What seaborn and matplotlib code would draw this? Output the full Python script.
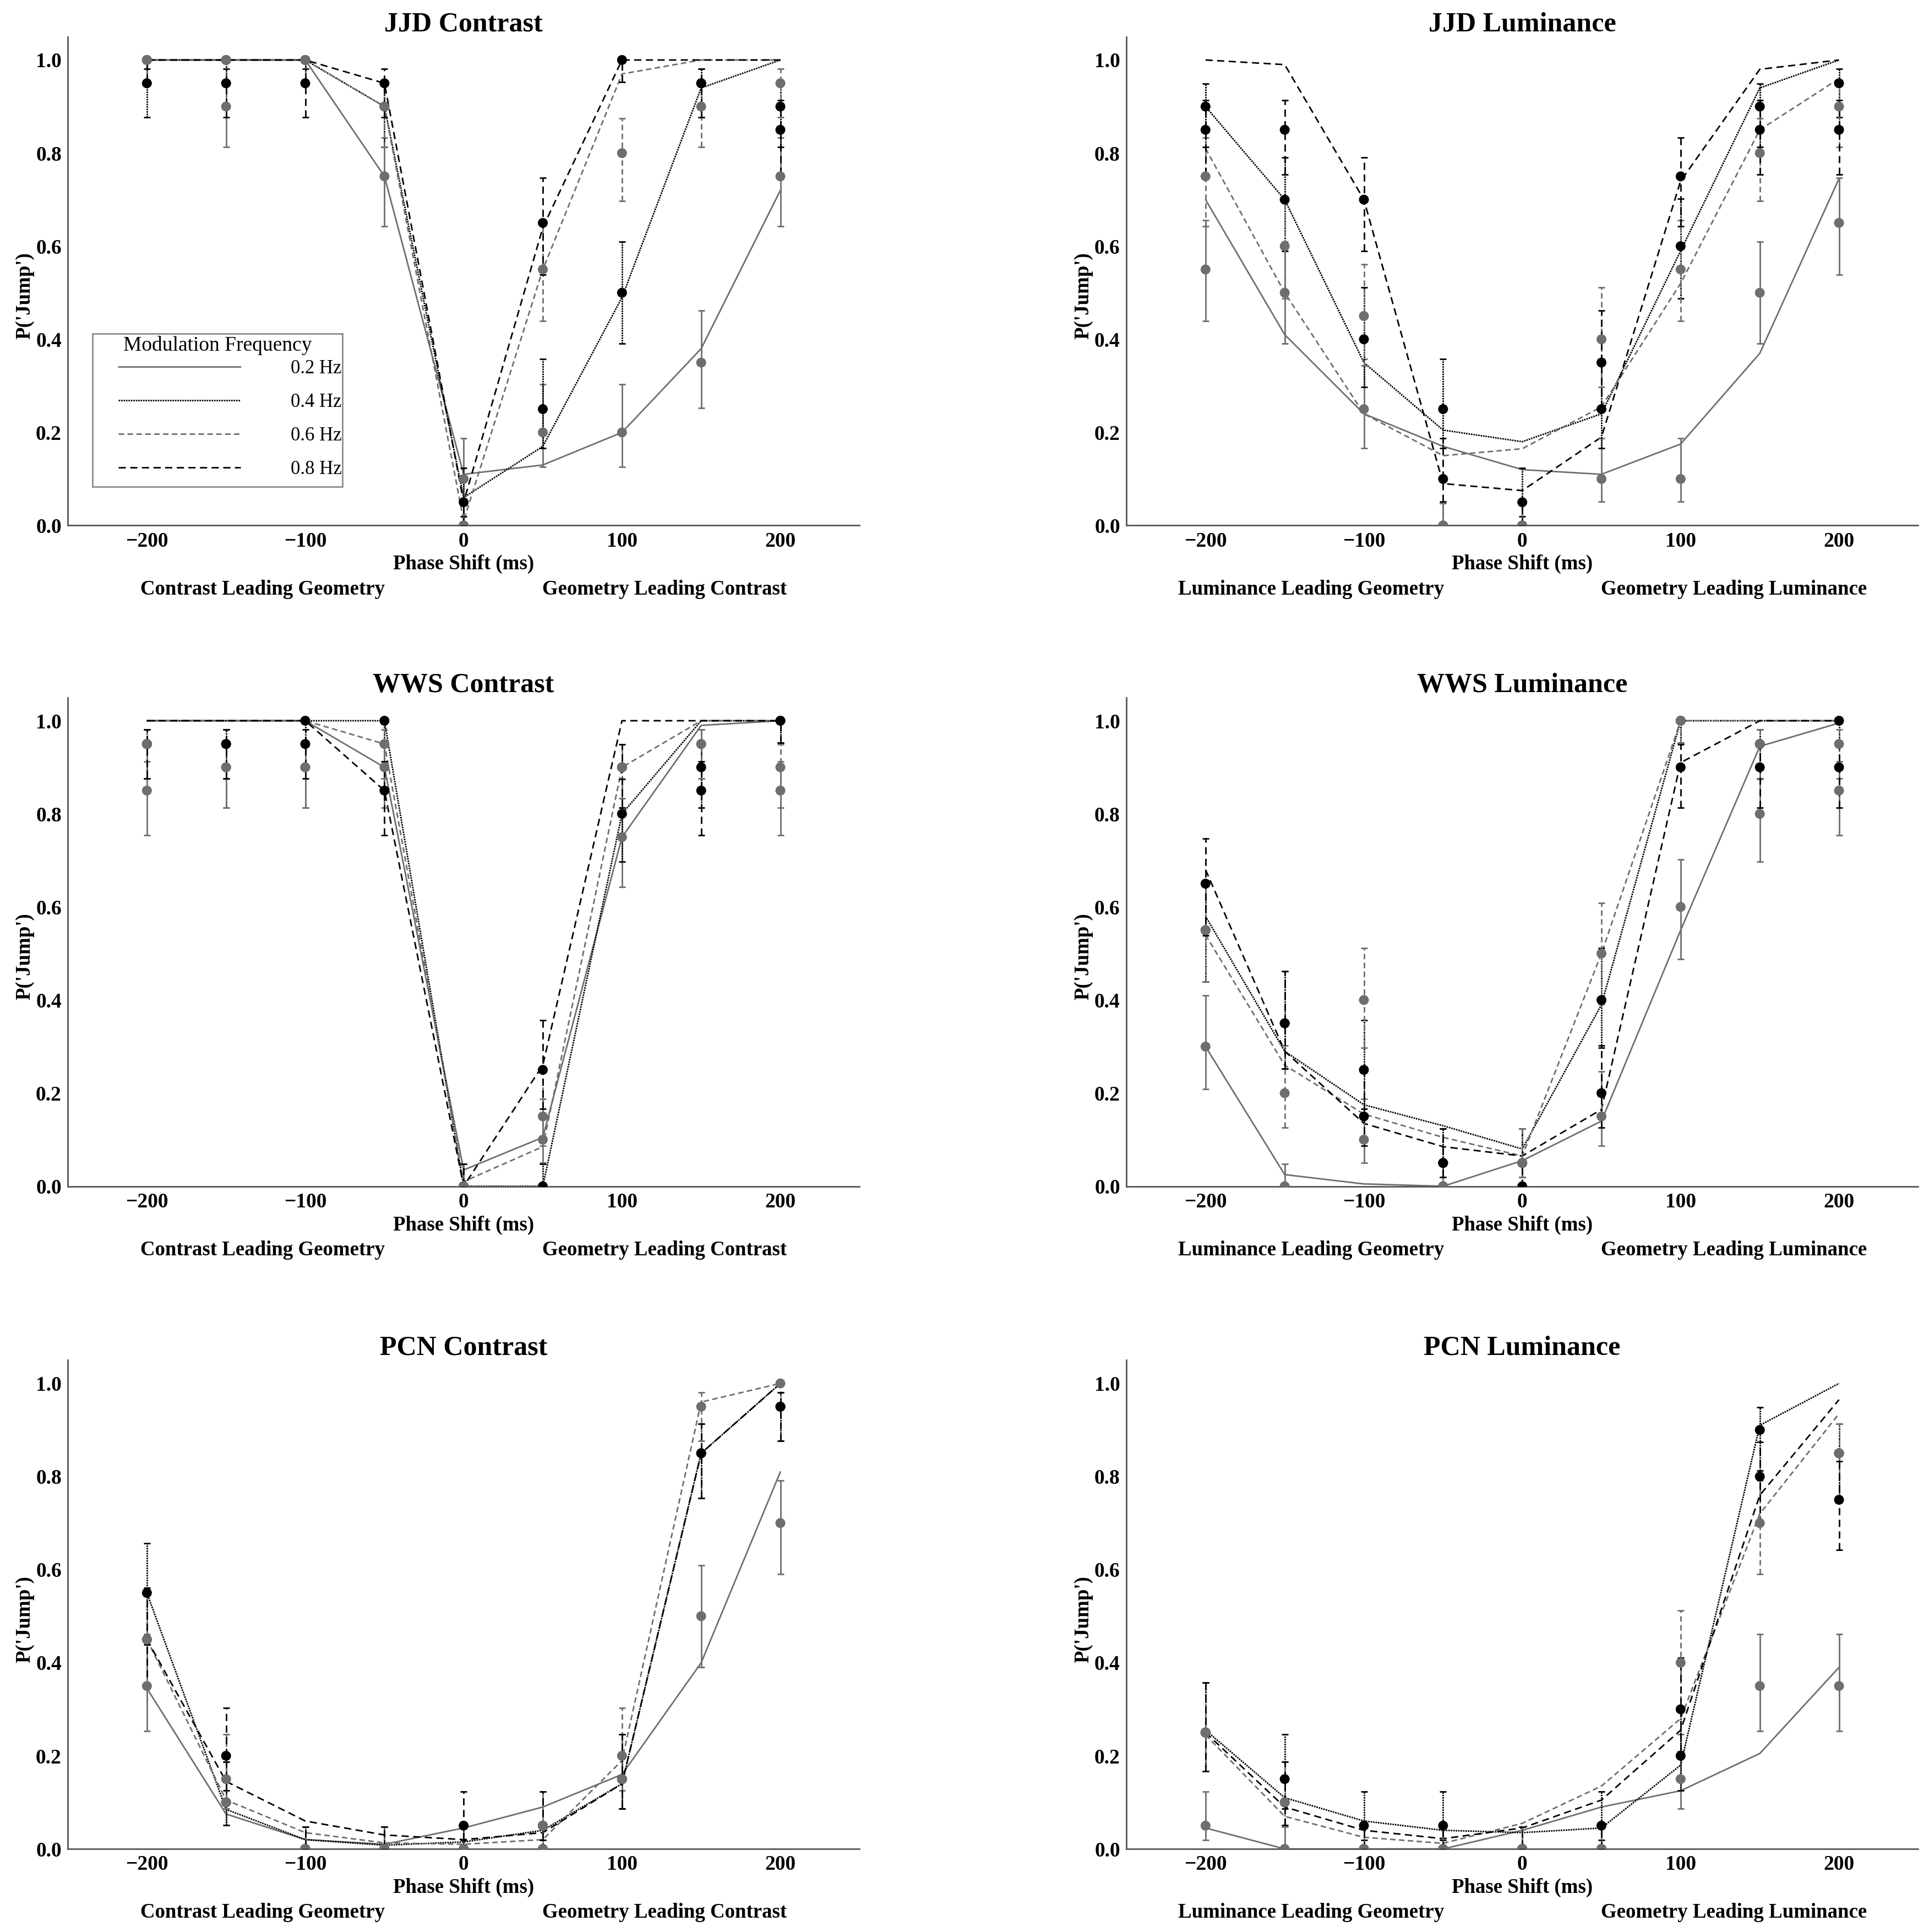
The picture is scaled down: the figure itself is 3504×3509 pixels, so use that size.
import numpy as np
import pandas as pd
import matplotlib
matplotlib.use("Agg")
import matplotlib.pyplot as plt
from matplotlib.lines import Line2D
from matplotlib.patches import Rectangle
from matplotlib.ticker import MultipleLocator
import seaborn as sns

# phase shifts (ms) and modulation frequencies
SHIFTS = [-200, -150, -100, -50, 0, 50, 100, 150, 200]
FREQS = ["0.2 Hz", "0.4 Hz", "0.6 Hz", "0.8 Hz"]
N_TRIALS = 20

# observed proportions, one row per frequency (0.2, 0.4, 0.6, 0.8 Hz)
JJD_CON_PTS = [[1.0, 0.9, 1.0, 0.75, 0.1, 0.2, 0.2, 0.35, 0.75],
               [0.95, 1.0, 1.0, 0.9, 0.05, 0.25, 0.5, 0.95, 0.9],
               [1.0, 1.0, 1.0, 0.9, 0.0, 0.55, 0.8, 0.9, 0.95],
               [1.0, 0.95, 0.95, 0.95, 0.0, 0.65, 1.0, 0.95, 0.85]]
JJD_CON_FIT = [[1.0, 1.0, 1.0, 0.75, 0.11, 0.13, 0.2, 0.38, 0.72],
               [1.0, 1.0, 1.0, 0.9, 0.06, 0.17, 0.49, 0.94, 1.0],
               [1.0, 1.0, 1.0, 0.9, 0.01, 0.55, 0.97, 1.0, 1.0],
               [1.0, 1.0, 1.0, 0.95, 0.05, 0.64, 1.0, 1.0, 1.0]]

JJD_LUM_PTS = [[0.55, 0.5, 0.25, 0.0, 0.0, 0.1, 0.1, 0.5, 0.65],
               [0.9, 0.7, 0.4, 0.25, 0.05, 0.25, 0.6, 0.9, 0.95],
               [0.75, 0.6, 0.45, 0.0, 0.0, 0.4, 0.55, 0.8, 0.9],
               [0.85, 0.85, 0.7, 0.1, 0.0, 0.35, 0.75, 0.85, 0.85]]
JJD_LUM_FIT = [[0.70, 0.41, 0.24, 0.17, 0.12, 0.11, 0.175, 0.37, 0.745],
               [0.90, 0.70, 0.35, 0.205, 0.18, 0.24, 0.59, 0.94, 1.0],
               [0.81, 0.50, 0.24, 0.15, 0.165, 0.255, 0.52, 0.85, 0.96],
               [1.0, 0.99, 0.70, 0.09, 0.075, 0.19, 0.74, 0.98, 1.0]]

WWS_CON_PTS = [[0.85, 0.9, 0.9, 0.9, 0.0, 0.1, 0.75, 0.95, 0.85],
               [0.95, 0.95, 1.0, 1.0, 0.0, 0.0, 0.8, 0.9, 1.0],
               [0.95, 0.9, 0.9, 0.95, 0.0, 0.15, 0.9, 0.95, 0.9],
               [0.95, 0.95, 0.95, 0.85, 0.0, 0.25, 0.9, 0.85, 1.0]]
WWS_CON_FIT = [[1.0, 1.0, 1.0, 0.9, 0.035, 0.105, 0.75, 0.99, 1.0],
               [1.0, 1.0, 1.0, 1.0, 0.0, 0.0, 0.8, 1.0, 1.0],
               [1.0, 1.0, 1.0, 0.95, 0.01, 0.085, 0.9, 1.0, 1.0],
               [1.0, 1.0, 1.0, 0.85, 0.0, 0.26, 1.0, 1.0, 1.0]]

WWS_LUM_PTS = [[0.3, 0.0, 0.1, 0.0, 0.05, 0.15, 0.6, 0.8, 0.85],
               [0.55, 0.35, 0.25, 0.05, 0.05, 0.4, 1.0, 0.95, 1.0],
               [0.55, 0.2, 0.4, 0.0, 0.05, 0.5, 1.0, 0.95, 0.95],
               [0.65, 0.35, 0.15, 0.05, 0.0, 0.2, 0.9, 0.9, 0.9]]
WWS_LUM_FIT = [[0.30, 0.025, 0.005, 0.0, 0.055, 0.14, 0.55, 0.945, 0.995],
               [0.58, 0.29, 0.175, 0.13, 0.08, 0.39, 1.0, 1.0, 1.0],
               [0.54, 0.26, 0.155, 0.105, 0.065, 0.50, 1.0, 1.0, 1.0],
               [0.68, 0.29, 0.135, 0.085, 0.065, 0.165, 0.91, 1.0, 1.0]]

PCN_CON_PTS = [[0.35, 0.1, 0.0, 0.0, 0.0, 0.05, 0.15, 0.5, 0.7],
               [0.55, 0.1, 0.0, 0.0, 0.0, 0.0, 0.15, 0.85, 0.95],
               [0.45, 0.15, 0.0, 0.0, 0.0, 0.0, 0.2, 0.95, 1.0],
               [0.45, 0.2, 0.0, 0.0, 0.05, 0.05, 0.15, 0.85, 0.95]]
PCN_CON_FIT = [[0.345, 0.075, 0.02, 0.01, 0.045, 0.09, 0.16, 0.40, 0.81],
               [0.55, 0.085, 0.02, 0.008, 0.015, 0.04, 0.14, 0.85, 1.0],
               [0.45, 0.105, 0.035, 0.013, 0.01, 0.02, 0.19, 0.96, 1.0],
               [0.45, 0.145, 0.06, 0.03, 0.02, 0.035, 0.14, 0.85, 1.0]]

PCN_LUM_PTS = [[0.05, 0.0, 0.0, 0.0, 0.0, 0.0, 0.15, 0.35, 0.35],
               [0.25, 0.15, 0.05, 0.05, 0.0, 0.05, 0.2, 0.9, 0.85],
               [0.25, 0.1, 0.0, 0.0, 0.0, 0.0, 0.4, 0.7, 0.85],
               [0.25, 0.1, 0.0, 0.0, 0.0, 0.0, 0.3, 0.8, 0.75]]
PCN_LUM_FIT = [[0.045, 0.0, 0.0, 0.0, 0.04, 0.09, 0.125, 0.205, 0.39],
               [0.255, 0.11, 0.06, 0.04, 0.035, 0.045, 0.18, 0.91, 1.0],
               [0.245, 0.07, 0.025, 0.012, 0.055, 0.135, 0.28, 0.72, 0.935],
               [0.25, 0.09, 0.04, 0.022, 0.045, 0.105, 0.255, 0.76, 0.965]]

PANELS = [
    ("JJD Contrast", "Contrast", JJD_CON_PTS, JJD_CON_FIT),
    ("JJD Luminance", "Luminance", JJD_LUM_PTS, JJD_LUM_FIT),
    ("WWS Contrast", "Contrast", WWS_CON_PTS, WWS_CON_FIT),
    ("WWS Luminance", "Luminance", WWS_LUM_PTS, WWS_LUM_FIT),
    ("PCN Contrast", "Contrast", PCN_CON_PTS, PCN_CON_FIT),
    ("PCN Luminance", "Luminance", PCN_LUM_PTS, PCN_LUM_FIT),
]

GRAY = "#6e6e6e"
COLORS = {"0.2 Hz": GRAY, "0.4 Hz": "black", "0.6 Hz": GRAY, "0.8 Hz": "black"}
DASHES = {"0.2 Hz": "", "0.4 Hz": (1.0, 0.6), "0.6 Hz": (3.6, 2.2), "0.8 Hz": (4.7, 2.9)}
LW = 1.0
# horizontal spot (axes fraction) of the "... Leading ..." captions
CAPTION_X = {"Contrast": (0.246, 0.754), "Luminance": (0.233, 0.767)}


def long_frame(rows):
    """Wide per-frequency rows -> long frame for seaborn."""
    recs = []
    for freq, vals in zip(FREQS, rows):
        for x, v in zip(SHIFTS, vals):
            recs.append((freq, x, v))
    return pd.DataFrame(recs, columns=["freq", "shift", "p"])


def wilson(p, n=N_TRIALS, z=1.0):
    """68% Wilson score interval for a proportion out of n trials."""
    p = np.asarray(p, dtype=float)
    denom = 1 + z ** 2 / n
    centre = (p + z ** 2 / (2 * n)) / denom
    half = z * np.sqrt(p * (1 - p) / n + z ** 2 / (4 * n ** 2)) / denom
    return centre - half, centre + half


def draw_panel(ax, title, stim, pts_rows, fit_rows):
    fit = long_frame(fit_rows)
    pts = long_frame(pts_rows)

    sns.lineplot(data=fit, x="shift", y="p", hue="freq", style="freq",
                 hue_order=FREQS, style_order=FREQS, palette=COLORS,
                 dashes=DASHES, linewidth=LW, estimator=None, sort=False,
                 legend=False, ax=ax, zorder=2)

    for freq in FREQS:
        sub = pts[pts["freq"] == freq]
        p = sub["p"].to_numpy()
        lo, hi = wilson(p)
        err = np.clip([p - lo, hi - p], 0, None)
        eb = ax.errorbar(sub["shift"], p, yerr=err, fmt="none",
                         ecolor=COLORS[freq], elinewidth=LW, capsize=2.2,
                         capthick=LW, zorder=3)
        if DASHES[freq]:
            eb.lines[2][0].set_linestyle((0, DASHES[freq]))

    # black series first so the grey dots sit on top
    order = ["0.4 Hz", "0.8 Hz", "0.2 Hz", "0.6 Hz"]
    pts = pts.set_index("freq").loc[order].reset_index()
    sns.scatterplot(data=pts, x="shift", y="p", hue="freq", palette=COLORS,
                    s=42, linewidth=0, legend=False, ax=ax, zorder=4)

    ax.set_xlim(-250, 250)
    ax.set_ylim(0, 1.05)
    ax.xaxis.set_major_locator(MultipleLocator(100))
    ax.xaxis.set_minor_locator(MultipleLocator(20))
    ax.yaxis.set_major_locator(MultipleLocator(0.2))
    ax.yaxis.set_minor_locator(MultipleLocator(0.05))
    ax.yaxis.set_major_formatter(plt.FuncFormatter(lambda v, _: f"{v:.1f}"))
    ax.tick_params(which="both", direction="in", color="#555555",
                   labelcolor="black", labelsize=13.5)
    ax.tick_params(which="major", length=2.0, width=0.8, pad=4.0)
    ax.tick_params(which="minor", length=1.2, width=0.8)
    for lab in ax.get_xticklabels() + ax.get_yticklabels():
        lab.set_fontweight("bold")

    for side in ("top", "right"):
        ax.spines[side].set_visible(False)
    for side in ("left", "bottom"):
        ax.spines[side].set_color("#555555")
        ax.spines[side].set_linewidth(1.0)

    ax.set_title(title, fontsize=18, fontweight="bold", color="black", pad=3.5)
    ax.set_xlabel("Phase Shift (ms)", fontsize=13.3, fontweight="bold",
                  color="black")
    ax.xaxis.label.set_va("baseline")
    ax.xaxis.set_label_coords(0.5, -0.090)
    ax.set_ylabel("P('Jump')", fontsize=13.3, fontweight="bold", color="black")
    ax.yaxis.set_label_coords(-0.042, 0.47)

    left_x, right_x = CAPTION_X[stim]
    ax.text(left_x, -0.141, f"{stim} Leading Geometry", transform=ax.transAxes,
            ha="center", va="baseline", fontsize=13.3, fontweight="bold",
            color="black")
    ax.text(right_x, -0.141, f"Geometry Leading {stim}", transform=ax.transAxes,
            ha="center", va="baseline", fontsize=13.3, fontweight="bold",
            color="black")


def add_legend(ax):
    handles = [Line2D([], [], color=COLORS[f], linewidth=LW,
                      linestyle=(0, DASHES[f]) if DASHES[f] else "-")
               for f in FREQS]
    ax.add_patch(Rectangle((0.031, 0.079), 0.316, 0.313,
                           transform=ax.transAxes, fill=False,
                           edgecolor="#8c8c8c", linewidth=1.0, zorder=5))
    ax.text(0.189, 0.368, "Modulation Frequency", transform=ax.transAxes,
            ha="center", va="center", fontsize=13.5, color="black", zorder=6)
    leg = ax.legend(handles, FREQS, loc="upper left",
                    bbox_to_anchor=(0.064, 0.339),
                    frameon=False, borderpad=0.0, borderaxespad=0.0,
                    fontsize=12.5, handlelength=6.4,
                    handletextpad=2.6, labelspacing=0.8)
    for txt in leg.get_texts():
        txt.set_color("black")


def main():
    sns.set_theme(style="white")
    plt.rcParams["font.family"] = ["Liberation Serif", "DejaVu Serif"]
    plt.rcParams["axes.unicode_minus"] = True
    plt.rcParams["text.color"] = "black"

    fig = plt.figure(figsize=(17.52, 17.545), dpi=200)
    lefts = [0.0351, 0.5839]
    bottoms = [0.728, 0.386, 0.043]
    width, height = 0.4105, 0.253

    for i, (title, stim, pts_rows, fit_rows) in enumerate(PANELS):
        ax = fig.add_axes([lefts[i % 2], bottoms[i // 2], width, height])
        draw_panel(ax, title, stim, pts_rows, fit_rows)
        if i == 0:
            add_legend(ax)

    fig.savefig("out.png", dpi=200, facecolor="white")


if __name__ == "__main__":
    main()
